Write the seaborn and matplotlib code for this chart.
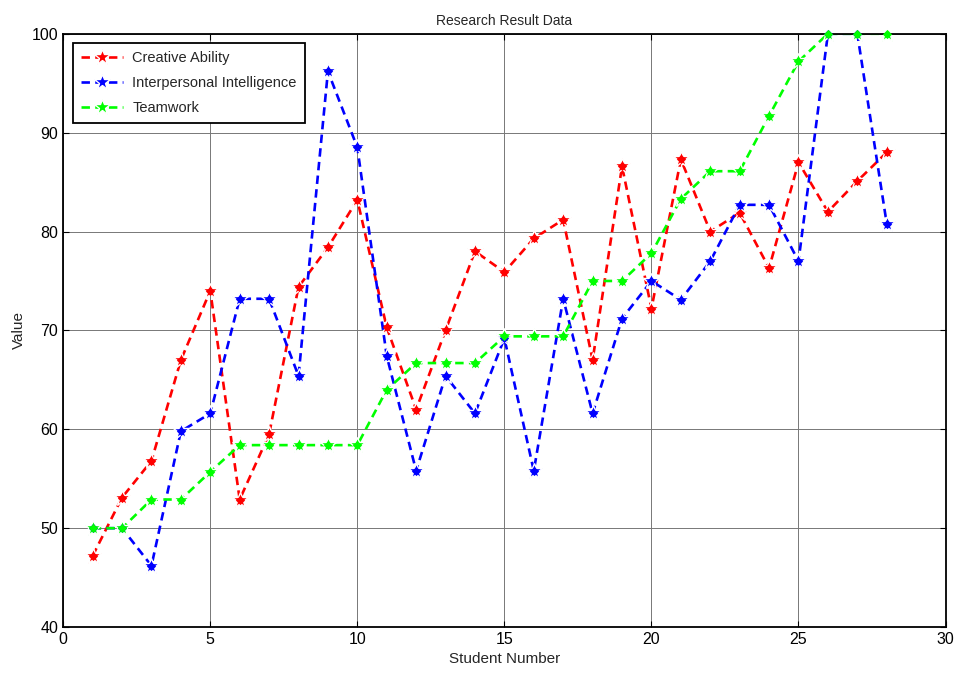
import numpy as np
import pandas as pd
import matplotlib
matplotlib.use("Agg")
import matplotlib.pyplot as plt
import seaborn as sns

students = list(range(1, 29))

creative = [47.2, 53.1, 56.8, 67.0, 74.0, 52.9, 59.5, 74.4, 78.4, 83.2,
            70.3, 62.0, 70.0, 78.0, 75.9, 79.3, 81.2, 67.0, 86.6, 72.2,
            87.3, 80.0, 81.9, 76.3, 87.0, 82.0, 85.1, 88.0]
interpersonal = [50.0, 50.0, 46.2, 59.8, 61.6, 73.2, 73.2, 65.4, 96.2, 88.5,
                 67.4, 55.8, 65.4, 61.6, 69.2, 55.8, 73.2, 61.6, 71.2, 75.0,
                 73.1, 77.0, 82.7, 82.7, 77.0, 100.0, 100.0, 80.8]
teamwork = [50.0, 50.0, 52.9, 52.9, 55.7, 58.4, 58.4, 58.4, 58.4, 58.4,
            64.0, 66.7, 66.7, 66.7, 69.4, 69.4, 69.4, 75.0, 75.0, 77.8,
            83.3, 86.1, 86.1, 91.7, 97.2, 100.0, 100.0, 100.0]

series_names = ["Creative Ability", "Interpersonal Intelligence", "Teamwork"]
colors = ["#ff0000", "#0000ff", "#00ff00"]

df = pd.DataFrame({
    "Student Number": students * 3,
    "Value": creative + interpersonal + teamwork,
    "Series": np.repeat(series_names, len(students)),
})

sns.set_style("white")
plt.rcParams["font.family"] = ["Liberation Sans", "DejaVu Sans"]

fig = plt.figure(figsize=(9.58, 6.75), dpi=100)
ax = fig.add_axes([0.066, 0.071, 0.921, 0.879])

sns.lineplot(data=df, x="Student Number", y="Value", hue="Series",
             palette=colors, marker="*", markersize=12, linewidth=1.9,
             markeredgewidth=1.0, dashes=False, ax=ax, legend=True)
for line in ax.get_lines():
    line.set_linestyle((0, (3.2, 2.0)))

# small diamonds on top of the stars, like the blurry MATLAB markers
for name, col in zip(series_names, colors):
    sub = df[df["Series"] == name]
    ax.scatter(sub["Student Number"], sub["Value"], marker="D", s=22,
               color=col, zorder=5, linewidths=0, clip_on=False)

ax.set_xlim(0, 30)
ax.set_ylim(40, 100)
ax.set_xticks(range(0, 31, 5))
ax.set_yticks(range(40, 101, 10))
ax.grid(True, color="#777777", linewidth=0.7)
ax.tick_params(direction="in", length=4, labelsize=11.5, colors="black",
               top=True, right=True, bottom=True, left=True)
for sp in ax.spines.values():
    sp.set_color("black")
    sp.set_linewidth(1.3)

ax.set_title("Research Result Data", fontsize=10)
ax.set_xlabel("Student Number", fontsize=11)
ax.set_ylabel("Value", fontsize=11)

handles, labels = ax.get_legend_handles_labels()
leg = ax.legend(handles[:3], series_names, loc="upper left", fontsize=10.5,
                frameon=True, fancybox=False, edgecolor="black",
                handlelength=2.9, handletextpad=0.6, borderpad=0.55,
                labelspacing=0.75, bbox_to_anchor=(0.003, 0.997))
leg.get_frame().set_linewidth(1.3)
leg.get_frame().set_alpha(1)

fig.savefig("out.png", dpi=100)
